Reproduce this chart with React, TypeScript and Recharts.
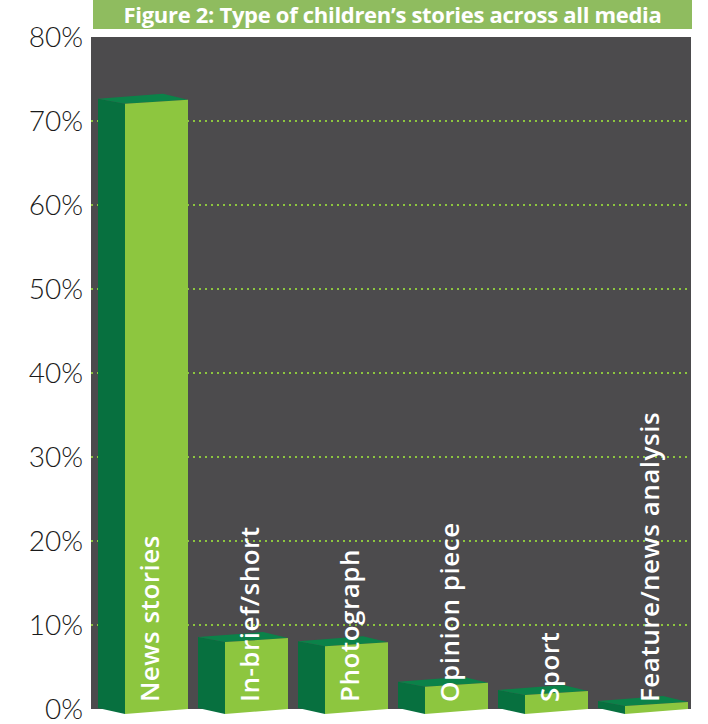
import React from 'react';
import { BarChart, Bar, XAxis, YAxis, CartesianGrid } from 'recharts';

const categories = ['News stories', 'In-brief/short', 'Photograph', 'Opinion piece', 'Sport', 'Feature/news analysis'];
const shares = [72.3, 8.2, 7.7, 2.9, 1.9, 0.6];
const yTicks = [0, 10, 20, 30, 40, 50, 60, 70, 80];
const gridValues = [10, 20, 30, 40, 50, 60, 70];
const title = 'Figure 2: Type of children\u2019s stories across all media';

const data = categories.map((name, i) => ({ name, value: shares[i] }));

const FRONT = '#8dc63f';
const SIDE = '#07703f';
const TOP = '#0b8249';

const BoxShape = (props: any) => {
  const { x, y, width, height, index } = props;
  const cx = x + width / 2;
  const vy = y;
  const base = y + height;
  const L = cx - 43;
  const M = cx - 16;
  const R = cx + 47;
  const B = cx + 22;
  const side = `${L},${vy - 3} ${M},${vy + 2} ${M},${base + 5} ${L},${base - 1}`;
  const front = `${M},${vy + 2} ${R},${vy - 2} ${R},${base} ${M},${base + 5}`;
  const top = `${L},${vy - 3} ${B},${vy - 8} ${R},${vy - 2} ${M},${vy + 2}`;
  const tx = cx + 18;
  const ty = base - 7;
  return (
    <g>
      <polygon points={side} fill={SIDE} />
      <polygon points={top} fill={TOP} />
      <polygon points={front} fill={FRONT} />
      <text
        x={tx}
        y={ty}
        transform={`rotate(-90 ${tx} ${ty})`}
        fill="#ffffff"
        fontFamily="'Open Sans', sans-serif"
        fontWeight={600}
        fontSize={26}
        letterSpacing={0.5}
        textAnchor="start"
      >
        {categories[index]}
      </text>
    </g>
  );
};

export default function App() {
  return (
    <div style={{ position: 'absolute', left: 0, top: 0, width: 708, height: 724, background: '#ffffff' }}>
      <div
        style={{
          position: 'absolute',
          left: 93,
          top: 0,
          width: 599,
          height: 29,
          background: '#8fbc5f',
          color: '#ffffff',
          fontFamily: "'Open Sans', sans-serif",
          fontWeight: 700,
          fontSize: 22,
          lineHeight: '29px',
          textAlign: 'center',
          letterSpacing: -0.3,
          whiteSpace: 'nowrap',
        }}
      >
        {title}
      </div>
      <BarChart
        width={708}
        height={724}
        data={data}
        margin={{ top: 37, right: 17, bottom: 15, left: 0 }}
        barSize={90}
      >
        <CartesianGrid
          vertical={false}
          horizontalValues={gridValues}
          stroke={FRONT}
          strokeWidth={2}
          strokeDasharray="2 4"
          fill="#4c4b4d"
          fillOpacity={1}
        />
        <XAxis dataKey="name" hide />
        <YAxis
          width={91}
          domain={[0, 80]}
          ticks={yTicks}
          interval={0}
          tickFormatter={(v: number) => `${v}%`}
          axisLine={false}
          tickLine={false}
          tick={{ fill: '#1a1a1a', fontSize: 28, fontFamily: 'Lato, sans-serif', fontWeight: 300 }}
        />
        <Bar dataKey="value" isAnimationActive={false} shape={BoxShape} />
      </BarChart>
    </div>
  );
}
